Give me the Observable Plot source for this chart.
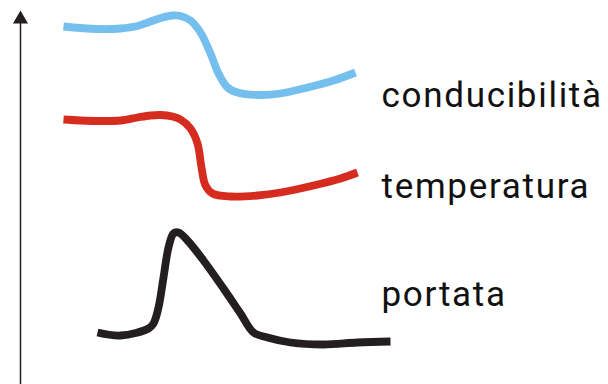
<!DOCTYPE html>
<html>
<head>
<meta charset="utf-8">
<script src="https://cdn.jsdelivr.net/npm/d3@7"></script>
<script src="https://cdn.jsdelivr.net/npm/@observablehq/plot@0.6"></script>
<style>
  html, body { margin: 0; padding: 0; background: #fff; }
  #chart svg text { letter-spacing: 1.7px; }
</style>
</head>
<body>
<div id="chart"></div>
<script>
// [time, level] pairs
const conducibilita = [[63,358],[80,356.5],[100,355.5],[120,356],[137,358.5],[150,363],[162,367],[172,369],[180,368.5],[190,364],[200,352],[210,331],[218,311],[227,297],[237,292],[260,289.5],[280,291],[307,297],[333,304],[355,312]];
const temperatura = [[63,265],[80,264],[100,263.5],[120,264],[137,267],[150,269],[160,269.5],[172,268],[180,265],[190,256],[197,241],[201,217],[205,199],[212,191],[230,188],[257,189],[280,192],[313,199],[340,206],[357,212]];
const portata = [[97,52],[120,49],[148,56],[153,61],[158,77],[163,107],[168,137],[173,151],[178,152],[187,144],[203,124],[223,96],[240,71],[253,52],[267,47],[290,42],[323,40],[357,42],[390,43]];
const seriesNames = ["conducibilità", "temperatura", "portata"];
const seriesColors = ["#74bfee", "#d62b1f", "#231f20"];
const labelTime = [381, 381, 381];
const labelLevel = [289, 198, 90];
const axisTime = 20;
const axisRange = [0, 361];

const table = [];
[conducibilita, temperatura, portata].forEach((s, i) => s.forEach(([t, v]) => table.push({t, v, serie: seriesNames[i]})));
const labels = seriesNames.map((n, i) => ({n, t: labelTime[i], v: labelLevel[i]}));

const plot = Plot.plot({
  width: 608,
  height: 384,
  margin: 0,
  x: {domain: [0, 608], axis: null},
  y: {domain: [0, 384], axis: null},
  color: {domain: seriesNames, range: seriesColors},
  marks: [
    Plot.ruleX([axisTime], {y1: axisRange[0], y2: axisRange[1], stroke: "#231f20", strokeWidth: 1.5}),
    Plot.dot([{t: axisTime, v: axisRange[1] + 4.3}], {x: "t", y: "v", symbol: "triangle", r: 5.6, fill: "#231f20", stroke: "none"}),
    Plot.line(table, {x: "t", y: "v", z: "serie", stroke: "serie", strokeWidth: 7.8, curve: "catmull-rom", strokeLinecap: "butt", strokeLinejoin: "round"}),
    Plot.text(labels, {x: "t", y: "v", text: "n", textAnchor: "start", fontSize: 35, fontFamily: "Roboto", fill: "#111"})
  ]
});
document.getElementById("chart").appendChild(plot);
</script>
</body>
</html>
